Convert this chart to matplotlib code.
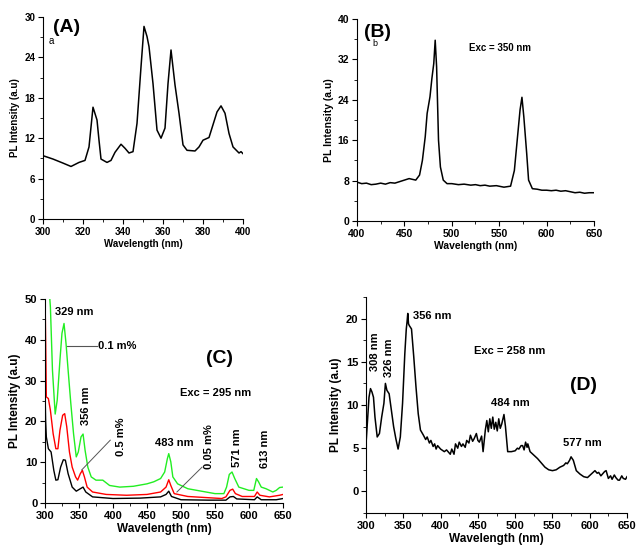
import matplotlib
matplotlib.use("Agg")
import matplotlib.pyplot as plt
from matplotlib.ticker import MultipleLocator

plt.rcParams['font.family'] = ['Liberation Sans', 'DejaVu Sans']
plt.rcParams['font.weight'] = 'bold'

# ---- panel A (exc spectrum) ----
a_wl = [300, 305, 310, 314, 318, 321, 323, 325, 327, 328, 329, 332, 334, 336, 339, 341,
        343, 345, 347, 349, 350.5, 352, 353, 355, 357, 359, 361, 362.5, 364, 366, 368,
        370, 372, 376, 378, 380, 383, 385, 387, 389, 391, 393, 395, 397, 398, 399, 400]
a_int = [9.4, 8.9, 8.3, 7.8, 8.4, 8.7, 10.7, 16.6, 14.7, 11.7, 8.9, 8.4, 8.7, 9.9, 11.1, 10.5,
         9.8, 10.0, 14.2, 22.6, 28.6, 27.1, 25.6, 20.1, 13.2, 12.0, 13.5, 20.1, 25.1, 19.9, 15.7,
         11.0, 10.2, 10.1, 10.7, 11.7, 12.1, 14.0, 15.9, 16.8, 15.7, 12.7, 10.7, 10.1, 9.8, 10.0, 9.7]

# ---- panel B ----
b_wl = [400, 405, 410, 415, 420, 425, 430, 435, 440, 445, 450, 455, 462, 466, 469, 472, 474,
        477, 479, 481, 482.5, 484, 486, 488, 491, 495, 500, 507, 513, 520, 525, 530, 535, 540,
        547, 555, 562, 566, 569, 572, 574, 576, 579, 581, 585, 590, 595, 600, 605, 610, 615,
        620, 625, 630, 635, 640, 645, 650]
b_int = [7.7, 7.4, 7.5, 7.2, 7.3, 7.5, 7.3, 7.6, 7.5, 7.8, 8.1, 8.4, 8.1, 9.1, 12.0, 16.7, 21.3,
         24.6, 28.2, 31.2, 35.8, 30.5, 16.0, 10.7, 8.1, 7.4, 7.4, 7.2, 7.3, 7.1, 7.2, 7.0, 7.1, 6.9,
         7.0, 6.7, 6.9, 10.0, 16.0, 22.0, 24.5, 20.6, 13.4, 8.1, 6.4, 6.3, 6.1, 6.1, 6.0, 6.1, 5.9,
         6.0, 5.8, 5.6, 5.7, 5.5, 5.6, 5.6]

# ---- panel C (three concentrations) ----
c_wl_g = [302, 305, 308, 311, 315, 318, 322, 325, 328, 331, 334, 338, 342, 346, 349, 353, 356,
          359, 363, 368, 375, 385, 395, 410, 430, 450, 460, 470, 476, 480, 482, 485, 488, 495,
          510, 530, 550, 563, 567, 571, 575, 579, 585, 600, 607, 611, 614, 618, 625, 635, 640,
          645, 650]
c_green = [60, 55, 48, 32.6, 21.8, 25.2, 35.0, 41.6, 44.0, 39.0, 32.6, 24.4, 17.0, 11.3, 12.5,
           16.2, 16.9, 12.9, 8.8, 6.4, 5.6, 5.6, 4.3, 3.9, 4.1, 4.7, 5.2, 6.0, 7.6, 10.9, 12.1,
           10.1, 6.4, 4.7, 3.5, 2.9, 2.3, 2.3, 3.9, 7.0, 7.6, 6.0, 3.9, 3.1, 3.1, 6.0, 5.2, 3.9,
           3.5, 2.7, 3.1, 3.8, 3.9]
c_wl_r = [300, 301, 302, 305, 308, 312, 316, 319, 322, 326, 329, 332, 336, 340, 345, 348, 352,
          355, 358, 362, 370, 390, 420, 450, 470, 478, 482, 485, 490, 510, 540, 560, 566, 572,
          576, 580, 590, 608, 612, 616, 630, 645, 650]
c_red = [52, 40, 26.0, 25.6, 22.7, 17.0, 13.3, 13.3, 17.8, 21.5, 21.9, 18.7, 12.5, 8.8, 6.4,
         5.6, 7.2, 8.0, 6.4, 3.9, 2.7, 2.1, 1.9, 2.1, 2.7, 3.9, 5.7, 4.3, 2.3, 1.6, 1.3, 1.1,
         1.5, 3.1, 3.4, 2.3, 1.6, 1.6, 2.7, 1.9, 1.5, 1.9, 2.1]
c_wl_k = [300, 301, 302, 305, 309, 313, 316, 319, 323, 327, 330, 334, 340, 346, 352, 356, 360,
          370, 400, 440, 470, 478, 482, 486, 500, 540, 566, 572, 577, 582, 608, 612, 618, 640, 650]
c_black = [28, 20, 16.2, 13.3, 12.5, 8.0, 5.6, 5.7, 8.8, 10.6, 10.5, 7.2, 3.9, 2.9, 3.5, 3.9,
           2.7, 1.5, 1.1, 1.2, 1.5, 2.1, 2.9, 1.6, 0.8, 0.7, 0.7, 1.5, 1.6, 1.0, 0.8, 1.5, 0.8,
           0.8, 1.1]

# ---- panel D ----
d_wl = [300, 302, 304, 306, 308, 310, 312, 315, 318, 321, 324, 326, 328, 331, 334, 337, 340,
        343, 346, 349, 352, 354, 355, 356, 357, 358, 361, 364, 367, 370, 373, 377, 380, 382, 385,
        387, 390, 392, 394, 396, 400, 405, 408, 410, 413, 415, 418, 420, 423, 425, 428, 430, 433,
        435, 438, 440, 443, 445, 448, 450, 452, 455, 457, 460, 462, 464, 466, 468, 470, 472, 474,
        476, 478, 480, 482, 485, 487, 490, 495, 500, 503, 505, 508, 510, 512, 514, 516, 517, 520,
        525, 530, 535, 540, 545, 550, 555, 560, 565, 568, 570, 573, 575, 578, 582, 587, 592, 597,
        602, 607, 610, 612, 615, 617, 620, 622, 625, 628, 630, 633, 635, 638, 640, 643, 645, 648,
        650]
d_int = [5.5, 8.2, 10.9, 11.9, 11.5, 10.9, 8.6, 6.3, 6.7, 8.6, 10.2, 12.5, 11.7, 11.3, 9.4, 7.5,
         6.1, 4.9, 6.3, 10.2, 15.9, 18.8, 19.6, 20.6, 19.4, 19.2, 18.8, 15.6, 12.1, 9.0, 7.1, 6.5,
         6.0, 6.3, 5.6, 5.9, 5.2, 5.5, 4.9, 5.3, 4.9, 4.6, 4.8, 4.6, 4.3, 4.9, 4.3, 5.5, 5.0, 5.7,
         5.2, 5.5, 5.1, 5.9, 5.6, 6.5, 5.8, 6.1, 6.7, 5.9, 5.7, 6.4, 4.6, 7.1, 8.2, 6.9, 8.4, 7.3,
         8.6, 7.2, 8.0, 7.0, 8.4, 7.3, 7.8, 8.9, 7.5, 4.6, 4.6, 4.7, 5.0, 4.9, 5.3, 5.3, 4.8, 5.7,
         5.1, 5.5, 4.6, 4.2, 3.8, 3.3, 2.8, 2.5, 2.4, 2.5, 2.8, 3.0, 3.3, 3.2, 3.6, 4.0, 3.6, 2.4,
         2.0, 1.7, 1.6, 2.0, 2.4, 2.1, 2.2, 1.8, 2.0, 2.3, 2.4, 1.5, 1.8, 1.4, 1.9, 1.6, 1.3, 1.3,
         1.8, 1.5, 1.4, 1.7]

fig = plt.figure(figsize=(6.37, 5.48), dpi=100)
axA = fig.add_axes([0.0675, 0.6004, 0.314, 0.3686])
axB = fig.add_axes([0.5604, 0.5967, 0.3721, 0.3686])
axC = fig.add_axes([0.0706, 0.0821, 0.3737, 0.3723])
axD = fig.add_axes([0.5746, 0.0639, 0.4097, 0.3941])


def style(ax, xlim, ylim, xmaj, ymaj, fs_tick, fs_lab):
    ax.set_xlim(*xlim)
    ax.set_ylim(*ylim)
    ax.xaxis.set_major_locator(MultipleLocator(xmaj))
    ax.xaxis.set_minor_locator(MultipleLocator(xmaj / 2))
    ax.yaxis.set_major_locator(MultipleLocator(ymaj))
    ax.yaxis.set_minor_locator(MultipleLocator(ymaj / 2))
    for s in ('top', 'right'):
        ax.spines[s].set_visible(False)
    ax.tick_params(which='major', direction='out', length=3.5, width=0.8,
                   labelsize=fs_tick, pad=2)
    ax.tick_params(which='minor', direction='out', length=2, width=0.6)
    for lbl in ax.get_xticklabels() + ax.get_yticklabels():
        lbl.set_fontweight('bold')
    ax.set_xlabel('Wavelength (nm)', fontsize=fs_lab, fontweight='bold', labelpad=2)
    ax.set_ylabel('PL Intensity (a.u)', fontsize=fs_lab, fontweight='bold', labelpad=3)


# A
axA.plot(a_wl, a_int, color='black', lw=1.1)
style(axA, (300, 400), (0, 30), 20, 6, 7, 7)
axA.text(305, 28.5, '(A)', fontsize=14, fontweight='bold', va='center')
axA.text(303, 26.5, 'a', fontsize=7, fontweight='normal', va='center')

# B
axB.plot(b_wl, b_int, color='black', lw=1.1)
style(axB, (400, 650), (0, 40), 50, 8, 7.5, 7.5)
axB.text(407, 37.3, '(B)', fontsize=14, fontweight='bold', va='center')
axB.text(416, 35.2, 'b', fontsize=6.5, fontweight='normal', va='center')
axB.text(518, 34.3, 'Exc = 350 nm', fontsize=7, fontweight='bold', va='center')

# C
axC.plot(c_wl_k, c_black, color='black', lw=1.0)
axC.plot(c_wl_r, c_red, color='#ff0000', lw=1.0)
axC.plot(c_wl_g, c_green, color='#22ee22', lw=1.0)
style(axC, (300, 650), (0, 50), 50, 10, 8, 8.5)
axC.text(315, 46.7, '329 nm', fontsize=8, fontweight='bold', va='center')
axC.plot([332, 376], [38.5, 38.5], color='#555555', lw=0.8)
axC.text(378, 38.5, '0.1 m%', fontsize=8, fontweight='bold', va='center')
axC.text(557, 35.5, '(C)', fontsize=14, fontweight='bold', ha='center', va='center')
axC.text(551, 27, 'Exc = 295 nm', fontsize=8, fontweight='bold', ha='center', va='center')
axC.text(360, 23.8, '356 nm', fontsize=8, fontweight='bold', rotation=90, ha='center', va='center')
axC.plot([354, 396], [8.1, 15.4], color='#555555', lw=0.7)
axC.text(412, 16.2, '0.5 m%', fontsize=8, fontweight='bold', rotation=90, ha='center', va='center')
axC.text(490, 14.7, '483 nm', fontsize=8, fontweight='bold', ha='center', va='center')
axC.plot([494, 531], [2.7, 8.8], color='#555555', lw=0.7)
axC.text(541, 13.7, '0.05 m%', fontsize=8, fontweight='bold', rotation=90, ha='center', va='center')
axC.text(582, 13.5, '571 nm', fontsize=8, fontweight='bold', rotation=90, ha='center', va='center')
axC.text(623, 13.2, '613 nm', fontsize=8, fontweight='bold', rotation=90, ha='center', va='center')

# D
axD.plot(d_wl, d_int, color='black', lw=1.1)
style(axD, (300, 650), (-2.5, 22.5), 50, 5, 8, 8.5)
axD.yaxis.set_minor_locator(MultipleLocator(2.5))
axD.text(363, 20.3, '356 nm', fontsize=8, fontweight='bold', va='center')
axD.text(312, 16.2, '308 nm', fontsize=8, fontweight='bold', rotation=90, ha='center', va='center')
axD.text(331, 15.5, '326 nm', fontsize=8, fontweight='bold', rotation=90, ha='center', va='center')
axD.text(493, 16.3, 'Exc = 258 nm', fontsize=8, fontweight='bold', ha='center', va='center')
axD.text(592, 12.3, '(D)', fontsize=14, fontweight='bold', ha='center', va='center')
axD.text(494, 10.2, '484 nm', fontsize=8, fontweight='bold', ha='center', va='center')
axD.text(590, 5.6, '577 nm', fontsize=8, fontweight='bold', ha='center', va='center')

fig.savefig('out.png', dpi=100)
